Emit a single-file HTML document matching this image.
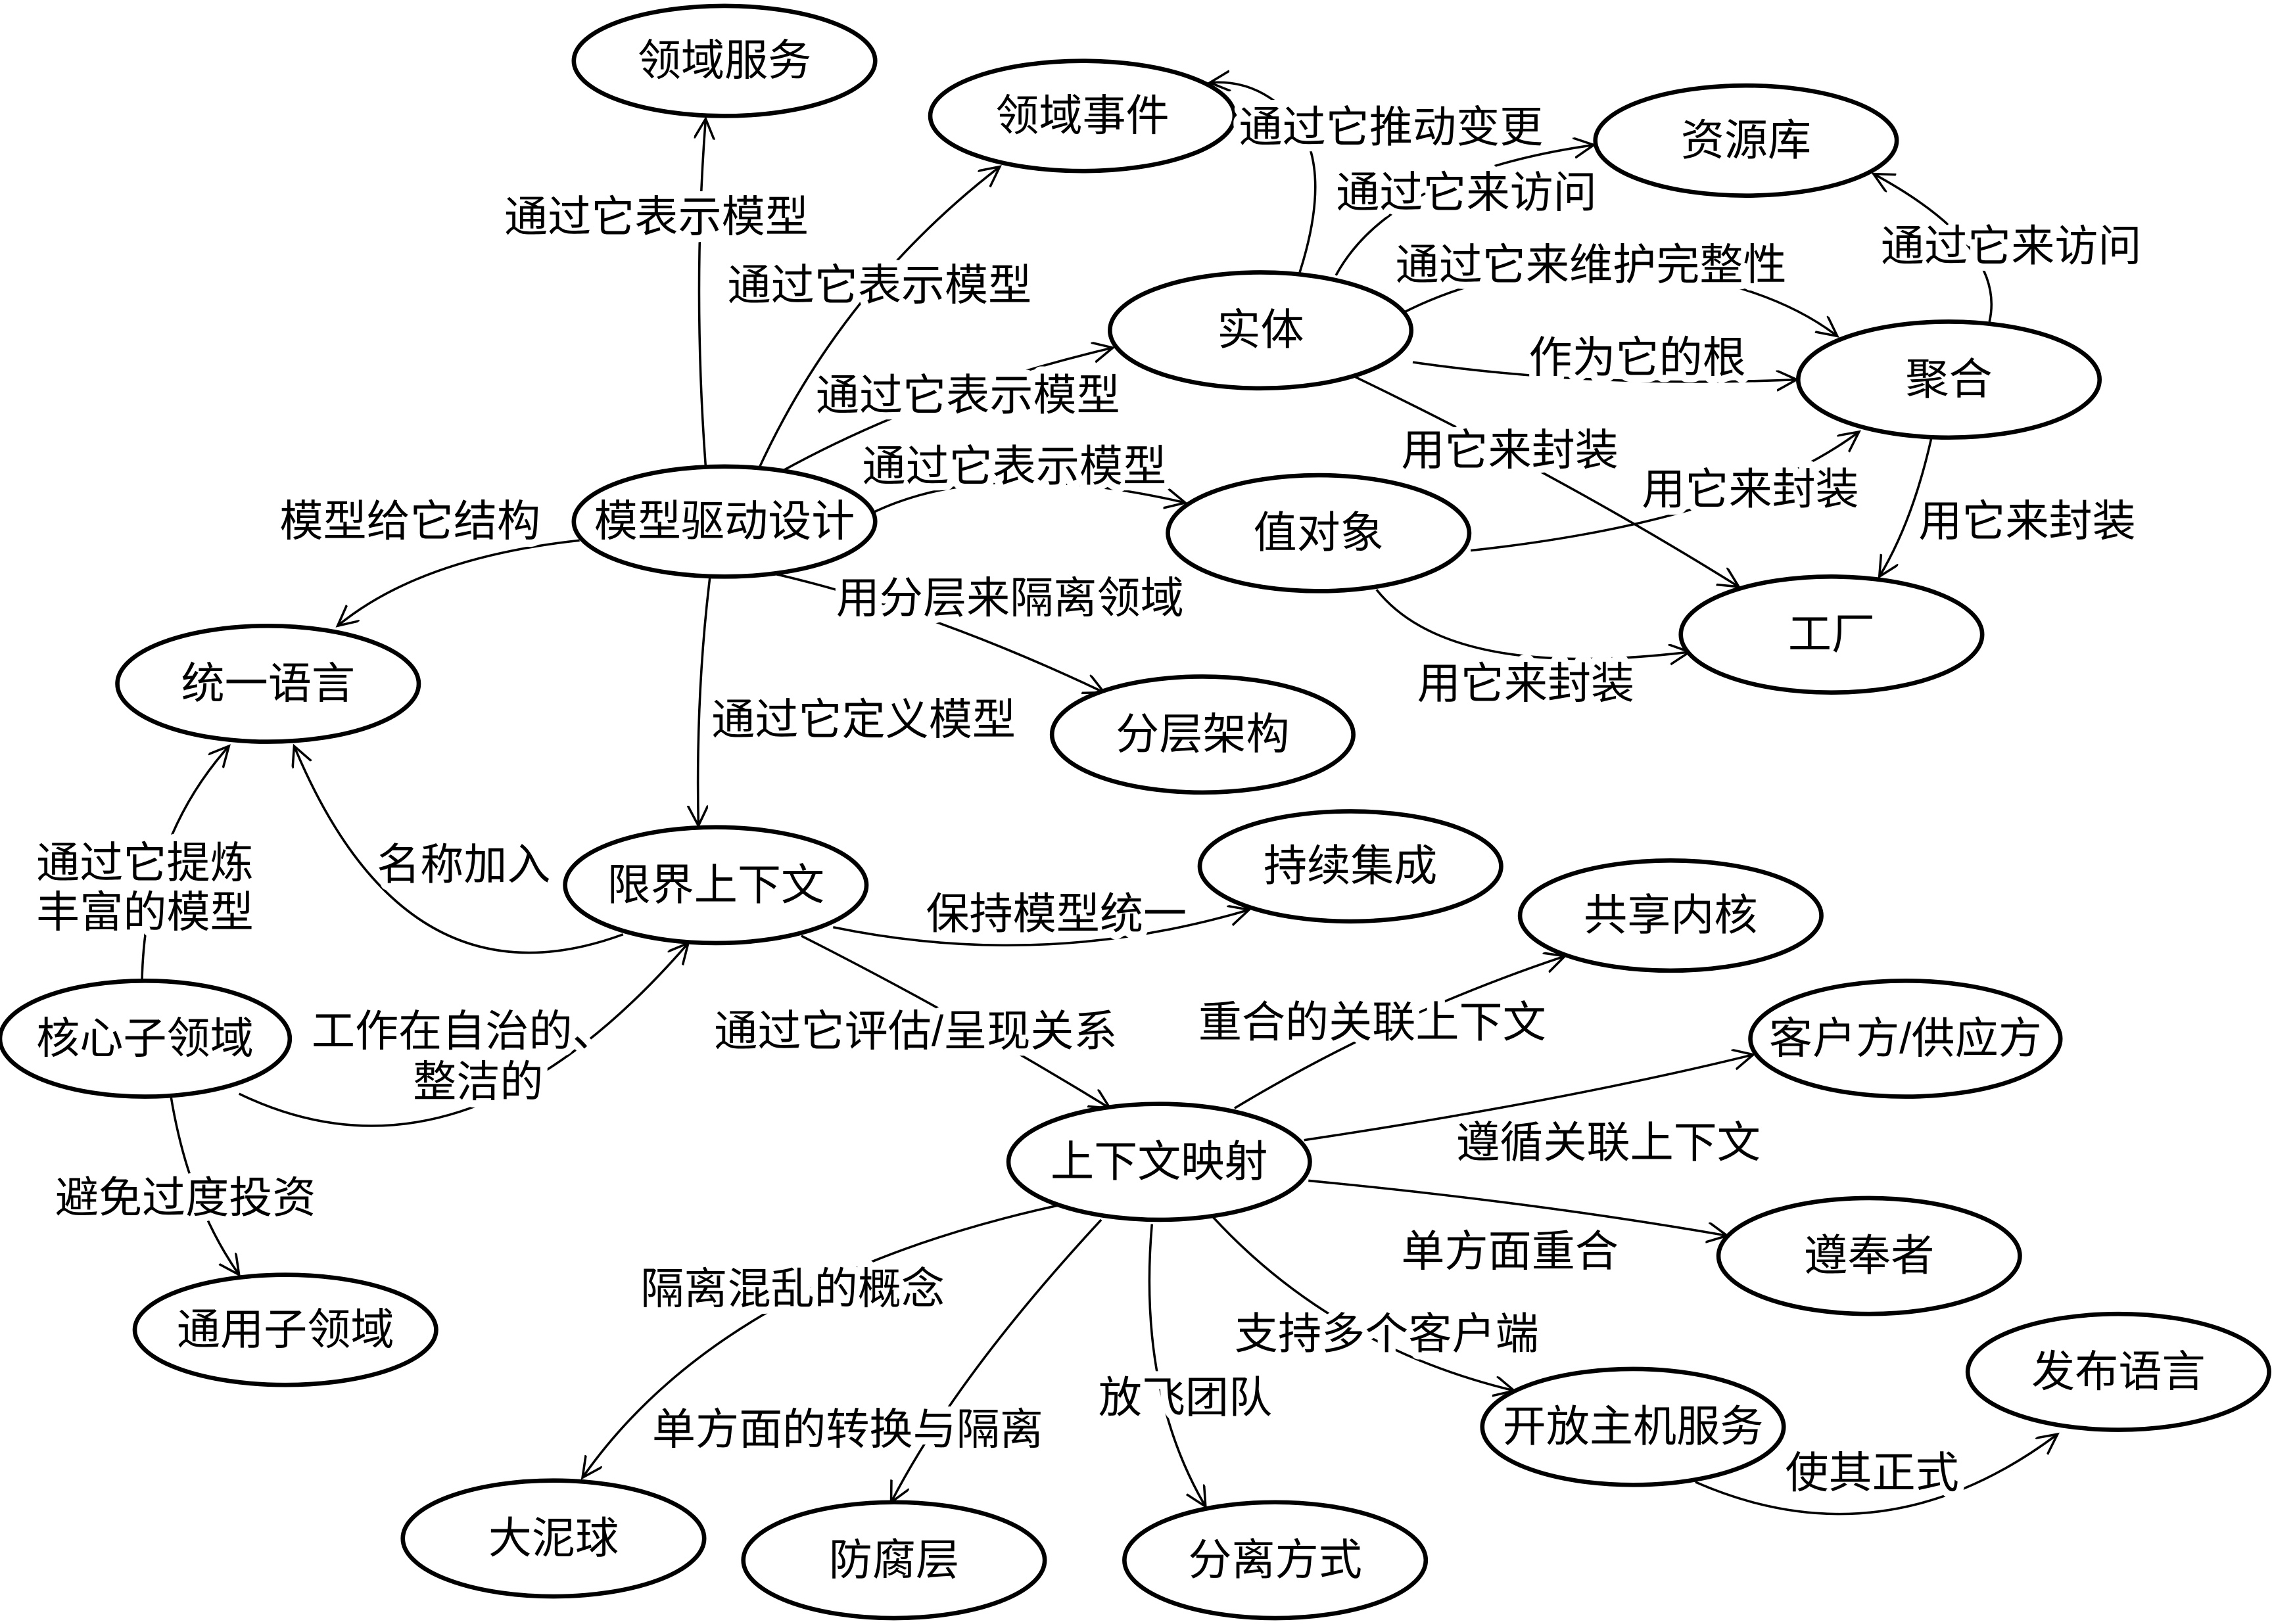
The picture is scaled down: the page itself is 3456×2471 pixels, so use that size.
<!DOCTYPE html>
<html><head><meta charset="utf-8"><style>
html,body{margin:0;padding:0;background:#fff;}
svg{display:block;}
text{font-family:"Liberation Sans","Noto Sans CJK SC",sans-serif;font-size:30px;fill:#000;text-anchor:middle;dominant-baseline:central;}
.lb text{stroke:#fff;stroke-width:10px;stroke-linejoin:round;paint-order:stroke;}
.e{fill:#fff;stroke:#000;stroke-width:3;}
.l{fill:none;stroke:#000;stroke-width:1.6;marker-end:url(#a);}
</style></head><body>
<svg width="3456" height="2471" viewBox="0 0 1568 1121" xmlns="http://www.w3.org/2000/svg">
<defs><marker id="a" markerWidth="20" markerHeight="20" refX="14" refY="7" orient="auto" markerUnits="userSpaceOnUse"><path d="M0,0 L14,7 L0,14" fill="none" stroke="#000" stroke-width="1.6"/></marker></defs>
<rect width="1568" height="1121" fill="#fff"/>
<path class="l" d="M487,322 Q478,200 487,82"/>
<path class="l" d="M523,325 Q580,200 690,115"/>
<path class="l" d="M540,325 Q640,270 768,240"/>
<path class="l" d="M600,355 Q680,315 818,347"/>
<path class="l" d="M400,373 Q290,385 233,432"/>
<path class="l" d="M530,395 Q640,420 762,478"/>
<path class="l" d="M490,398 Q480,480 482,570"/>
<path class="l" d="M897,188 Q925,100 880,70 Q860,55 835,57"/>
<path class="l" d="M922,190 Q960,120 1100,100"/>
<path class="l" d="M970,215 Q1040,180 1130,185 Q1220,195 1268,232"/>
<path class="l" d="M975,250 Q1100,268 1240,262"/>
<path class="l" d="M935,260 Q1080,330 1200,405"/>
<path class="l" d="M1373,222 Q1385,170 1293,120"/>
<path class="l" d="M1015,380 Q1200,360 1283,298"/>
<path class="l" d="M1333,302 Q1320,360 1297,398"/>
<path class="l" d="M950,407 Q1000,470 1166,450"/>
<path class="l" d="M430,645 Q280,700 203,515"/>
<path class="l" d="M575,640 Q720,670 862,628"/>
<path class="l" d="M553,646 Q660,700 766,765"/>
<path class="l" d="M98,677 Q100,580 158,515"/>
<path class="l" d="M165,755 Q320,830 475,651"/>
<path class="l" d="M118,757 Q130,830 165,880"/>
<path class="l" d="M852,765 Q960,700 1080,660"/>
<path class="l" d="M900,787 Q1080,760 1210,728"/>
<path class="l" d="M903,815 Q1060,830 1192,853"/>
<path class="l" d="M837,840 Q920,930 1045,960"/>
<path class="l" d="M740,830 Q500,880 402,1020"/>
<path class="l" d="M760,842 Q660,950 615,1037"/>
<path class="l" d="M795,845 Q785,960 832,1040"/>
<path class="l" d="M1170,1023 Q1300,1080 1420,990"/>
<g>
<ellipse class="e" cx="500" cy="42" rx="104" ry="38"/><text x="500" y="42">领域服务</text>
<ellipse class="e" cx="747" cy="80" rx="105" ry="38"/><text x="747" y="80">领域事件</text>
<ellipse class="e" cx="1205" cy="97" rx="104" ry="38"/><text x="1205" y="97">资源库</text>
<ellipse class="e" cx="870" cy="228" rx="104" ry="40"/><text x="870" y="228">实体</text>
<ellipse class="e" cx="1345" cy="262" rx="104" ry="40"/><text x="1345" y="262">聚合</text>
<ellipse class="e" cx="500" cy="360" rx="104" ry="38"/><text x="500" y="360">模型驱动设计</text>
<ellipse class="e" cx="910" cy="368" rx="104" ry="40"/><text x="910" y="368">值对象</text>
<ellipse class="e" cx="1264" cy="438" rx="104" ry="40"/><text x="1264" y="438">工厂</text>
<ellipse class="e" cx="185" cy="472" rx="104" ry="40"/><text x="185" y="472">统一语言</text>
<ellipse class="e" cx="830" cy="507" rx="104" ry="40"/><text x="830" y="507">分层架构</text>
<ellipse class="e" cx="494" cy="611" rx="104" ry="40"/><text x="494" y="611">限界上下文</text>
<ellipse class="e" cx="932" cy="598" rx="104" ry="38"/><text x="932" y="598">持续集成</text>
<ellipse class="e" cx="1153" cy="632" rx="104" ry="38"/><text x="1153" y="632">共享内核</text>
<ellipse class="e" cx="100" cy="717" rx="100" ry="40"/><text x="100" y="717">核心子领域</text>
<ellipse class="e" cx="1315" cy="717" rx="107" ry="40"/><text x="1315" y="717">客户方/供应方</text>
<ellipse class="e" cx="800" cy="802" rx="104" ry="40"/><text x="800" y="802">上下文映射</text>
<ellipse class="e" cx="1290" cy="867" rx="104" ry="40"/><text x="1290" y="867">遵奉者</text>
<ellipse class="e" cx="197" cy="918" rx="104" ry="38"/><text x="197" y="918">通用子领域</text>
<ellipse class="e" cx="1462" cy="947" rx="104" ry="40"/><text x="1462" y="947">发布语言</text>
<ellipse class="e" cx="1127" cy="985" rx="104" ry="40"/><text x="1127" y="985">开放主机服务</text>
<ellipse class="e" cx="382" cy="1062" rx="104" ry="40"/><text x="382" y="1062">大泥球</text>
<ellipse class="e" cx="617" cy="1077" rx="104" ry="40"/><text x="617" y="1077">防腐层</text>
<ellipse class="e" cx="880" cy="1077" rx="104" ry="40"/><text x="880" y="1077">分离方式</text>
</g>
<g class="lb">
<text x="453" y="150">通过它表示模型</text>
<text x="607" y="197">通过它表示模型</text>
<text x="668" y="273">通过它表示模型</text>
<text x="700" y="322">通过它表示模型</text>
<text x="283" y="360">模型给它结构</text>
<text x="697" y="413">用分层来隔离领域</text>
<text x="596" y="497">通过它定义模型</text>
<text x="960" y="88">通过它推动变更</text>
<text x="1012" y="133">通过它来访问</text>
<text x="1098" y="183">通过它来维护完整性</text>
<text x="1130" y="247">作为它的根</text>
<text x="1042" y="311">用它来封装</text>
<text x="1388" y="170">通过它来访问</text>
<text x="1208" y="338">用它来封装</text>
<text x="1399" y="360">用它来封装</text>
<text x="1053" y="472">用它来封装</text>
<text x="320" y="597">名称加入</text>
<text x="729" y="631">保持模型统一</text>
<text x="632" y="712">通过它评估/呈现关系</text>
<text x="100" y="596">通过它提炼</text>
<text x="100" y="630">丰富的模型</text>
<text x="320" y="712">工作在自治的、</text>
<text x="330" y="747">整洁的</text>
<text x="128" y="827">避免过度投资</text>
<text x="947" y="706">重合的关联上下文</text>
<text x="1110" y="789">遵循关联上下文</text>
<text x="1042" y="864">单方面重合</text>
<text x="957" y="921">支持多个客户端</text>
<text x="547" y="890">隔离混乱的概念</text>
<text x="585" y="987">单方面的转换与隔离</text>
<text x="818" y="965">放飞团队</text>
<text x="1292" y="1017">使其正式</text>
</g>
</svg>
</body></html>
